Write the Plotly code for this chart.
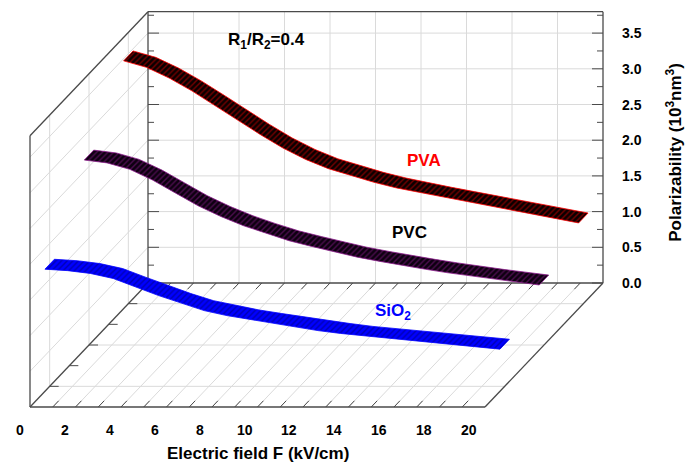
import plotly.graph_objects as go

# ---------------- data ----------------
field_F = list(range(0, 21))  # kV/cm
pva = [3.47, 3.38, 3.23, 3.05, 2.85, 2.64, 2.44, 2.25, 2.09, 1.96, 1.86,
       1.77, 1.69, 1.62, 1.56, 1.50, 1.44, 1.38, 1.32, 1.26, 1.20]
pvc = [2.66, 2.62, 2.53, 2.38, 2.20, 2.02, 1.87, 1.74, 1.63, 1.53, 1.45,
       1.37, 1.30, 1.24, 1.18, 1.13, 1.08, 1.03, 0.99, 0.95, 0.91]
sio2 = [1.71, 1.69, 1.65, 1.58, 1.46, 1.34, 1.23, 1.13, 1.06, 1.00, 0.95,
        0.90, 0.85, 0.81, 0.77, 0.74, 0.71, 0.68, 0.65, 0.62, 0.59]

series_values = [pva, pvc, sio2]
series_labels = ["PVA", "PVC", "SiO<sub>2</sub>"]
series_depth = [1 / 6, 1 / 2, 5 / 6]          # position along the depth axis (0 = back, 1 = front)
label_F = [13.0, 14.1, 15.1]
label_P = [2.0, 1.57, 1.04]

x_tick_values = list(range(0, 21, 2))
x_tick_labels = [str(v) for v in x_tick_values]
y_tick_values = [0.0, 0.5, 1.0, 1.5, 2.0, 2.5, 3.0, 3.5]
y_tick_labels = ["%.1f" % v for v in y_tick_values]

F_MIN, F_MAX = 0, 20
P_MIN, P_TOP = 0.0, 3.8

# ---------------- oblique projection ----------------
PX_PER_F = 22.75
PX_PER_P = 71.4
DEPTH_DX = -118 / PX_PER_F   # shift (in F units) for full depth
DEPTH_DY = -124 / PX_PER_P   # shift (in P units) for full depth


def proj(f, p, d):
    return f + DEPTH_DX * d, p + DEPTH_DY * d


def seg_trace(segments, color, width):
    xs, ys = [], []
    for a, b in segments:
        x0, y0 = proj(*a)
        x1, y1 = proj(*b)
        xs += [x0, x1, None]
        ys += [y0, y1, None]
    return go.Scatter(x=xs, y=ys, mode="lines", hoverinfo="skip",
                      line=dict(color=color, width=width), showlegend=False)


GRID = "#dadada"
FRAME = "#4a4a4a"

grid = []
for f in range(2, 20, 2):
    grid.append(((f, P_MIN, 0), (f, P_TOP, 0)))
for p in y_tick_values[1:]:
    grid.append(((F_MIN, p, 0), (F_MAX, p, 0)))
    grid.append(((F_MIN, p, 0), (F_MIN, p, 1)))
for d in series_depth:
    grid.append(((F_MIN, P_MIN, d), (F_MIN, P_TOP, d)))
    grid.append(((F_MIN, P_MIN, d), (F_MAX, P_MIN, d)))
for f in range(1, 20):
    grid.append(((f, P_MIN, 0), (f, P_MIN, 1)))

frame = [
    ((F_MIN, P_MIN, 0), (F_MAX, P_MIN, 0)),
    ((F_MAX, P_MIN, 0), (F_MAX, P_TOP, 0)),
    ((F_MAX, P_TOP, 0), (F_MIN, P_TOP, 0)),
    ((F_MIN, P_TOP, 0), (F_MIN, P_MIN, 0)),
    ((F_MIN, P_TOP, 0), (F_MIN, P_TOP, 1)),
    ((F_MIN, P_TOP, 1), (F_MIN, P_MIN, 1)),
    ((F_MIN, P_MIN, 1), (F_MAX, P_MIN, 1)),
    ((F_MAX, P_MIN, 1), (F_MAX, P_MIN, 0)),
    ((F_MIN, P_MIN, 0), (F_MIN, P_MIN, 1)),
]

ticks = []
k = 0
p = 0.0
while p <= P_TOP + 1e-9:
    ln = (11 if k % 2 == 0 else 6) / PX_PER_F
    ticks.append(((F_MAX, p, 0), (F_MAX - ln, p, 0)))
    ticks.append(((F_MIN, p, 0), (F_MIN + ln, p, 0)))
    k += 1
    p = k * 0.25
for f in range(1, 20):
    ticks.append(((f, P_MIN, 1), (f, P_MIN, 0.95)))
    ticks.append(((f, P_MIN, 0), (f, P_MIN, 0.05)))
for j in range(1, 6):
    d = j / 6
    ticks.append(((F_MIN, P_MIN, d), (F_MIN + 9 / PX_PER_F, P_MIN, d)))

fig = go.Figure()
fig.add_trace(seg_trace(grid, GRID, 1))
fig.add_trace(seg_trace(frame, FRAME, 1.3))
fig.add_trace(seg_trace(ticks, FRAME, 1))

# ---------------- ribbons ----------------
RIB_W = 0.08
styles = [
    dict(bg="#0a0000", fg="#e00000", line="#ff0000"),
    dict(bg="#0d0010", fg="#8a1a8a", line="#8b1c8b"),
    dict(bg="#0000ff", fg="#00006a", line="#0000ff"),
]
for vals, dc, st in zip(series_values, series_depth, styles):
    d1, d2 = dc - RIB_W / 2, dc + RIB_W / 2
    xs, ys = [], []
    for f, v in zip(field_F, vals):
        x, y = proj(f, v, d1)
        xs.append(x); ys.append(y)
    for f, v in zip(reversed(field_F), reversed(vals)):
        x, y = proj(f, v, d2)
        xs.append(x); ys.append(y)
    xs.append(xs[0]); ys.append(ys[0])
    fig.add_trace(go.Scatter(
        x=xs, y=ys, mode="lines", fill="toself", hoverinfo="skip",
        fillcolor=st["bg"],
        fillpattern=dict(shape="/", bgcolor=st["bg"], fgcolor=st["fg"],
                         size=4, solidity=0.35),
        line=dict(color=st["line"], width=0.8), showlegend=False))

# ---------------- text ----------------
FONT = "Arial, 'Liberation Sans', sans-serif"
ann = []
for v, t in zip(y_tick_values, y_tick_labels):
    x, y = proj(F_MAX, v, 0)
    ann.append(dict(x=x, y=y, text="<b>%s</b>" % t, showarrow=False, xshift=29,
                    font=dict(size=14, color="black", family=FONT)))
for v, t in zip(x_tick_values, x_tick_labels):
    x, y = proj(v, P_MIN, 1)
    ann.append(dict(x=x, y=y, text="<b>%s</b>" % t, showarrow=False,
                    xshift=-10 - 0.3 * v, yshift=-23,
                    font=dict(size=14, color="black", family=FONT)))
x, y = proj((F_MIN + F_MAX) / 2, P_MIN, 1)
ann.append(dict(x=x, y=y, text="<b>Electric field F (kV/cm)</b>", showarrow=False,
                yshift=-46, font=dict(size=17, color="black", family=FONT)))
x, y = proj(F_MAX, P_TOP * 0.48, 0)
ann.append(dict(x=x, y=y, text="<b>Polarizability (10<sup>3</sup>nm<sup>3</sup>)</b>",
                showarrow=False, xshift=71, textangle=-90,
                font=dict(size=17, color="black", family=FONT)))
x, y = proj(5.2, 3.39, 0)
ann.append(dict(x=x, y=y, text="<b>R<sub>1</sub>/R<sub>2</sub>=0.4</b>", showarrow=False,
                font=dict(size=17, color="black", family=FONT)))
label_colors = ["#ff0000", "#000000", "#0000ff"]
for t, f, pv, d, c in zip(series_labels, label_F, label_P, series_depth, label_colors):
    x, y = proj(f, pv, d)
    ann.append(dict(x=x, y=y, text="<b>%s</b>" % t, showarrow=False,
                    font=dict(size=17, color=c, family=FONT)))

fig.update_layout(
    width=693, height=466, autosize=False,
    margin=dict(l=0, r=0, t=0, b=0, pad=0),
    paper_bgcolor="white", plot_bgcolor="white",
    xaxis=dict(range=[-148 / PX_PER_F, 545 / PX_PER_F], visible=False, fixedrange=True),
    yaxis=dict(range=[-183 / PX_PER_P, 283 / PX_PER_P], visible=False, fixedrange=True),
    annotations=ann, showlegend=False,
)
fig.write_html("out.html")
